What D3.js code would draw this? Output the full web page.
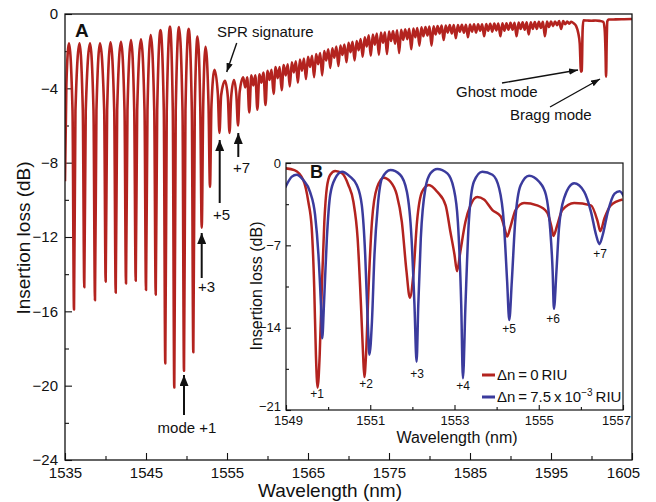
<!DOCTYPE html>
<html><head><meta charset="utf-8">
<script src="https://cdn.jsdelivr.net/npm/d3@7"></script>
<style>
body{margin:0;background:#fff;}
text{font-family:"Liberation Sans",Arial,Helvetica,sans-serif;fill:#111;}
</style></head><body>
<svg id="chart" width="656" height="502"></svg>
<script>
// ---------- DATA ----------
const mainSpectrum = [
 [1535.00,-9.0],[1535.17,-3.8],[1535.49,-1.58],
 [1535.93,-5.2],[1536.11,-15.9],[1536.29,-5.2],[1536.79,-1.58],
 [1537.20,-5.2],[1537.38,-14.7],[1537.56,-5.2],[1538.09,-1.58],
 [1538.52,-5.2],[1538.70,-15.4],[1538.88,-5.2],[1539.32,-1.58],
 [1539.84,-5.2],[1540.02,-14.4],[1540.20,-5.2],[1540.62,-1.52],
 [1541.08,-5.2],[1541.26,-15.0],[1541.44,-5.2],[1541.91,-1.49],
 [1542.35,-5.2],[1542.53,-14.5],[1542.71,-5.2],[1543.15,-1.40],
 [1543.55,-5.2],[1543.73,-14.35],[1543.91,-5.2],[1544.38,-1.36],
 [1544.82,-5.2],[1545.00,-14.85],[1545.18,-5.2],[1545.58,-1.13],
 [1546.02,-5.2],[1546.20,-15.1],[1546.38,-5.2],[1546.79,-0.86],
 [1547.20,-5.2],[1547.38,-18.8],[1547.56,-5.2],[1547.96,-0.68],
 [1548.31,-5.2],[1548.49,-20.1],[1548.67,-5.2],[1549.07,-0.70],
 [1549.51,-5.2],[1549.69,-19.2],[1549.87,-5.2],[1550.27,-0.80],
 [1550.66,-5.2],[1550.84,-18.2],[1551.02,-5.2],[1551.36,-1.22],
 [1551.70,-5.0],[1551.88,-11.5],[1552.06,-5.0],[1552.35,-1.76],
 [1552.72,-4.9],[1552.90,-9.3],[1553.08,-4.9],[1553.46,-3.0],
 [1553.87,-4.3],[1554.07,-6.4],[1554.27,-4.4],[1554.75,-3.6],
 [1555.11,-4.5],[1555.31,-6.4],[1555.51,-4.5],[1555.86,-3.55],
 [1556.16,-4.4],[1556.36,-6.0],[1556.56,-4.2],
 [1557.00,-3.40],[1557.25,-3.95],[1557.50,-3.40],[1557.75,-5.30],[1558.00,-3.30],[1558.25,-3.85],[1558.50,-3.30],[1558.75,-5.15],
 [1559.00,-3.25],[1559.25,-3.70],[1559.50,-3.15],[1559.75,-4.90],[1560.00,-3.05],[1560.25,-3.55],[1560.50,-3.00],[1560.75,-4.30],
 [1561.00,-2.85],[1561.25,-3.45],[1561.50,-2.85],[1561.75,-4.10],[1562.00,-2.75],[1562.25,-3.30],[1562.50,-2.70],[1562.75,-3.90],
 [1563.00,-2.60],[1563.25,-3.15],[1563.50,-2.55],[1563.75,-3.70],[1564.00,-2.45],[1564.25,-3.05],[1564.50,-2.40],[1564.75,-3.50],
 [1565.00,-2.30],[1565.25,-2.85],[1565.50,-2.25],[1565.75,-3.40],[1566.00,-2.15],[1566.25,-2.70],[1566.50,-2.10],[1566.75,-3.30],
 [1567.00,-2.00],[1567.25,-2.50],[1567.50,-1.90],[1567.75,-2.90],[1568.00,-1.85],[1568.25,-2.35],[1568.50,-1.75],[1568.75,-2.80],
 [1569.00,-1.70],[1569.25,-2.20],[1569.50,-1.65],[1569.75,-2.60],[1570.00,-1.55],[1570.25,-2.05],[1570.50,-1.50],[1570.75,-2.50],
 [1571.00,-1.45],[1571.25,-1.95],[1571.50,-1.35],[1571.75,-2.30],[1572.00,-1.25],[1572.25,-1.75],[1572.50,-1.15],[1572.75,-2.25],
 [1573.00,-1.10],[1573.25,-1.65],[1573.50,-1.05],[1573.75,-2.20],[1574.00,-1.00],[1574.25,-1.55],[1574.50,-0.98],[1574.75,-2.15],
 [1575.00,-0.95],[1575.25,-1.45],[1575.50,-0.92],[1575.75,-1.60],[1576.00,-0.88],[1576.25,-2.10],[1576.50,-0.85],[1576.75,-1.40],
 [1577.00,-0.82],[1577.25,-1.35],[1577.50,-0.80],[1577.75,-1.90],[1578.00,-0.78],[1578.25,-1.25],[1578.50,-0.75],[1578.75,-1.70],
 [1579.00,-0.72],[1579.25,-1.20],[1579.50,-0.70],[1579.75,-1.15],[1580.00,-0.68],[1580.25,-1.70],[1580.50,-0.66],[1580.75,-1.10],
 [1581.00,-0.65],[1581.25,-1.05],[1581.50,-0.62],[1581.75,-1.40],[1582.00,-0.62],[1582.25,-1.00],[1582.50,-0.60],[1582.75,-1.05],
 [1583.00,-0.60],[1583.25,-1.30],[1583.50,-0.60],[1583.75,-0.95],[1584.00,-0.58],[1584.25,-1.00],[1584.50,-0.58],[1584.75,-1.25],
 [1585.00,-0.57],[1585.25,-0.95],[1585.50,-0.56],[1585.75,-1.00],[1586.00,-0.55],[1586.25,-0.90],[1586.50,-0.55],[1586.75,-1.20],
 [1587.00,-0.54],[1587.25,-0.90],[1587.50,-0.53],[1587.75,-0.95],[1588.00,-0.52],[1588.25,-0.88],[1588.50,-0.51],[1588.75,-1.20],
 [1589.00,-0.50],[1589.25,-0.90],[1589.50,-0.50],[1589.75,-0.85],[1590.00,-0.48],[1590.25,-0.85],[1590.50,-0.47],[1590.75,-1.20],
 [1591.00,-0.46],[1591.25,-0.80],[1591.50,-0.45],[1591.75,-0.85],[1592.00,-0.44],[1592.25,-1.10],[1592.50,-0.44],[1592.75,-0.80],
 [1593.00,-0.43],[1593.25,-0.80],[1593.50,-0.42],[1593.75,-0.75],[1594.00,-0.42],[1594.25,-1.20],[1594.50,-0.41],[1594.75,-0.70],
 [1595.00,-0.40],[1595.25,-0.65],[1595.50,-0.40],[1595.75,-0.60],[1596.00,-0.38],[1596.25,-0.80],[1596.50,-0.38],[1596.75,-0.55],
 [1597.00,-0.40],[1597.25,-0.52],[1597.50,-0.42],[1597.80,-0.50],[1598.10,-0.65],[1598.35,-1.00],[1598.55,-1.60],
 [1598.70,-3.10],[1598.80,-3.05],[1598.90,-0.90],[1599.00,-0.34],[1599.50,-0.35],[1600.00,-0.36],[1600.50,-0.35],
 [1601.00,-0.37],[1601.45,-0.42],[1601.62,-0.80],[1601.73,-2.00],[1601.80,-3.37],[1601.88,-1.40],[1601.95,-0.40],
 [1602.10,-0.30],[1603.00,-0.29],[1604.00,-0.28],[1605.00,-0.27]
];

const insetRed = [
 [1548.98,-0.45],[1549.20,-0.60],[1549.41,-1.45],[1549.53,-3.3],[1549.61,-5.5],[1549.67,-10.6],[1549.71,-16.3],
 [1549.75,-19.1],[1549.80,-16.3],[1549.85,-10.6],[1549.91,-5.0],[1549.97,-2.1],[1550.05,-1.0],[1550.17,-0.68],
 [1550.33,-0.88],[1550.48,-1.87],[1550.60,-3.3],[1550.70,-6.4],[1550.78,-12.1],[1550.83,-16.3],[1550.86,-18.2],
 [1550.90,-16.3],[1550.96,-10.6],[1551.04,-5.0],[1551.16,-2.1],[1551.32,-1.25],[1551.48,-1.6],[1551.63,-2.7],
 [1551.75,-5.0],[1551.86,-9.2],[1551.94,-11.45],[1552.02,-9.6],[1552.11,-5.0],[1552.23,-2.45],[1552.39,-1.87],
 [1552.59,-2.45],[1552.79,-3.6],[1552.90,-5.8],[1553.00,-7.8],[1553.06,-9.2],[1553.14,-7.5],[1553.26,-5.0],
 [1553.38,-3.6],[1553.54,-2.9],[1553.70,-3.1],[1553.90,-4.0],[1554.10,-4.55],[1554.19,-5.55],[1554.25,-6.25],
 [1554.33,-5.4],[1554.45,-4.0],[1554.65,-3.4],[1554.96,-3.6],[1555.20,-4.2],[1555.30,-5.4],[1555.35,-6.2],
 [1555.43,-5.4],[1555.56,-4.0],[1555.84,-3.4],[1556.24,-3.6],[1556.40,-5.0],[1556.46,-5.8],[1556.56,-4.7],
 [1556.71,-3.6],[1556.99,-3.1]
];

const insetBlue = [
 [1548.98,-2.1],[1549.14,-1.16],[1549.25,-1.0],[1549.41,-1.45],[1549.57,-2.45],[1549.69,-4.4],[1549.77,-7.8],
 [1549.83,-12.1],[1549.86,-14.9],[1549.90,-12.1],[1549.97,-6.4],[1550.05,-2.7],[1550.17,-1.3],[1550.33,-0.74],
 [1550.52,-1.16],[1550.68,-1.87],[1550.80,-3.6],[1550.88,-7.8],[1550.94,-13.5],[1550.98,-16.3],[1551.04,-13.5],
 [1551.10,-7.8],[1551.18,-3.6],[1551.28,-1.3],[1551.48,-0.6],[1551.71,-1.0],[1551.87,-2.45],[1551.98,-6.4],
 [1552.05,-12.1],[1552.10,-16.9],[1552.14,-12.1],[1552.20,-6.4],[1552.31,-2.15],[1552.43,-0.88],[1552.59,-0.5],
 [1552.83,-0.88],[1552.98,-2.15],[1553.08,-5.0],[1553.16,-12.1],[1553.20,-18.3],[1553.26,-12.1],[1553.34,-5.0],
 [1553.46,-1.6],[1553.66,-0.74],[1553.90,-1.0],[1554.06,-2.15],[1554.17,-5.0],[1554.25,-10.1],[1554.30,-13.35],
 [1554.36,-10.1],[1554.44,-5.0],[1554.57,-1.9],[1554.77,-1.08],[1555.01,-1.6],[1555.17,-2.7],[1555.27,-5.55],
 [1555.33,-9.2],[1555.36,-12.4],[1555.42,-9.2],[1555.48,-5.55],[1555.60,-3.0],[1555.84,-1.73],[1556.08,-2.45],
 [1556.24,-4.15],[1556.36,-6.1],[1556.44,-6.9],[1556.52,-6.1],[1556.64,-4.15],[1556.80,-2.6],[1556.92,-2.4],
 [1557.03,-2.9]
];

const mainXTicks = [1535,1545,1555,1565,1575,1585,1595,1605];
const mainXMinor = [1540,1550,1560,1570,1580,1590,1600];
const mainYTicks = [0,-4,-8,-12,-16,-20,-24];
const mainYMinor = [-2,-6,-10,-14,-18,-22];
const insetXTicks = [1549,1551,1553,1555,1557];
const insetXMinor = [1550,1552,1554,1556];
const insetYTicks = [0,-7,-14,-21];
const insetYMinor = [-3.5,-10.5,-17.5];
const modeLabels = ["+1","+2","+3","+4","+5","+6","+7"];
const seriesNames = ["\u0394n\u2009=\u20090\u2009RIU","\u0394n\u2009=\u20097.5\u2009x\u200910"];

const RED = "#b3231f", BLUE = "#3b3b9d";

// ---------- DRAW ----------
const svg = d3.select("#chart");
const defs = svg.append("defs");
defs.append("clipPath").attr("id","clipMain").append("rect").attr("x",65).attr("y",14).attr("width",567).attr("height",446);
defs.append("clipPath").attr("id","clipInset").append("rect").attr("x",286).attr("y",163).attr("width",337).attr("height",247);
function marker(id,len,wid){
  defs.append("marker").attr("id",id).attr("viewBox",`0 0 ${len} ${wid}`).attr("refX",len).attr("refY",wid/2)
    .attr("markerWidth",len).attr("markerHeight",wid).attr("markerUnits","userSpaceOnUse").attr("orient","auto")
    .append("path").attr("d",`M0,0 L${len},${wid/2} L0,${wid} Z`).attr("fill","#111");
}
marker("arrBig",11,9);
marker("arrSmall",9,6.5);

const x = d3.scaleLinear().domain([1535,1605]).range([65,632]);
const y = d3.scaleLinear().domain([-24,0]).range([460,14]);
const fmtY = d => d===0 ? "0" : "\u2212"+Math.abs(d);

// main axes
function styleAxis(g,fs){ g.select(".domain").remove(); g.selectAll("line").attr("stroke","#111").attr("stroke-width",1.1); g.selectAll("text").attr("font-size",fs).attr("fill","#111").attr("font-family",null); }
const gx = svg.append("g").attr("transform","translate(0,460)")
  .call(d3.axisBottom(x).tickValues(mainXTicks).tickSize(-7).tickPadding(7).tickFormat(d3.format("d")));
styleAxis(gx,15);
gx.selectAll(".tick").filter(d=>d===1605).select("text").attr("dx",-9);
styleAxis(svg.append("g").attr("transform","translate(0,460)")
  .call(d3.axisBottom(x).tickValues(mainXMinor).tickSize(-4).tickFormat("")),15);
styleAxis(svg.append("g").attr("transform","translate(65,0)")
  .call(d3.axisLeft(y).tickValues(mainYTicks).tickSize(-7).tickPadding(7).tickFormat(fmtY)),15);
styleAxis(svg.append("g").attr("transform","translate(65,0)")
  .call(d3.axisLeft(y).tickValues(mainYMinor).tickSize(-4).tickFormat("")),15);

// main line
svg.append("path").datum(mainSpectrum).attr("clip-path","url(#clipMain)")
  .attr("d", d3.line().x(d=>x(d[0])).y(d=>y(d[1])).curve(d3.curveMonotoneX))
  .attr("fill","none").attr("stroke",RED).attr("stroke-width",2.6).attr("stroke-linejoin","round");

svg.append("rect").attr("x",65).attr("y",14).attr("width",567).attr("height",446)
  .attr("fill","none").attr("stroke","#111").attr("stroke-width",1.3);

// main titles
svg.append("text").attr("x",330).attr("y",497).attr("text-anchor","middle").attr("font-size",19).text("Wavelength (nm)");
svg.append("text").attr("transform","translate(30,238) rotate(-90)").attr("text-anchor","middle").attr("font-size",19).text("Insertion loss (dB)");
svg.append("text").attr("x",75).attr("y",37).attr("font-size",19).attr("font-weight","bold").text("A");

// main annotations
const ann = [
  {t:"SPR signature",x:217,y:37,a:"start"},
  {t:"+5",x:213,y:220,a:"start"},
  {t:"+7",x:233,y:173,a:"start"},
  {t:"+3",x:198,y:292,a:"start"},
  {t:"mode +1",x:187,y:433,a:"middle"},
  {t:"Ghost mode",x:456,y:97,a:"start"},
  {t:"Bragg mode",x:510,y:120,a:"start"}
];
svg.selectAll("text.ann").data(ann).join("text").attr("class","ann")
  .attr("x",d=>d.x).attr("y",d=>d.y).attr("text-anchor",d=>d.a).attr("font-size",15).text(d=>d.t);

const arrows = [
  {x1:219.7,y1:203,x2:219.7,y2:140,m:"arrBig",w:2},
  {x1:238.3,y1:157,x2:238.3,y2:133,m:"arrBig",w:2},
  {x1:201.7,y1:278,x2:201.7,y2:233,m:"arrBig",w:2},
  {x1:184,y1:415,x2:184,y2:375,m:"arrBig",w:2},
  {x1:236.7,y1:43,x2:226.7,y2:72,m:"arrSmall",w:1.4},
  {x1:502,y1:83,x2:578,y2:70,m:"arrSmall",w:1.4},
  {x1:550,y1:107,x2:600,y2:79,m:"arrSmall",w:1.4}
];
svg.selectAll("line.arr").data(arrows).join("line").attr("class","arr")
  .attr("x1",d=>d.x1).attr("y1",d=>d.y1).attr("x2",d=>d.x2).attr("y2",d=>d.y2)
  .attr("stroke","#111").attr("stroke-width",d=>d.w).attr("marker-end",d=>`url(#${d.m})`);

// ---------- INSET ----------
const xi = d3.scaleLinear().domain([1549,1557]).range([286,623]);
const yi = d3.scaleLinear().domain([-21,0]).range([410,163]);
svg.append("rect").attr("x",286).attr("y",163).attr("width",337).attr("height",247).attr("fill","#fff");

const gxi = svg.append("g").attr("transform","translate(0,410)")
  .call(d3.axisBottom(xi).tickValues(insetXTicks).tickSize(-5).tickPadding(6).tickFormat(d3.format("d")));
styleAxis(gxi,13);
gxi.selectAll(".tick").filter(d=>d===1557).select("text").attr("dx",-7);
gxi.selectAll(".tick").filter(d=>d===1549).select("text").attr("dx",2);
styleAxis(svg.append("g").attr("transform","translate(0,410)")
  .call(d3.axisBottom(xi).tickValues(insetXMinor).tickSize(-3).tickFormat("")),13);
const gyi = svg.append("g").attr("transform","translate(286,0)")
  .call(d3.axisLeft(yi).tickValues(insetYTicks).tickSize(-5).tickPadding(5).tickFormat(fmtY));
styleAxis(gyi,13);
gyi.selectAll(".tick").filter(d=>d===-21).select("text").attr("dy","0.05em");
styleAxis(svg.append("g").attr("transform","translate(286,0)")
  .call(d3.axisLeft(yi).tickValues(insetYMinor).tickSize(-3).tickFormat("")),13);

const lineI = d3.line().x(d=>xi(d[0])).y(d=>yi(d[1])).curve(d3.curveMonotoneX);
svg.append("path").datum(insetRed).attr("clip-path","url(#clipInset)").attr("d",lineI)
  .attr("fill","none").attr("stroke",RED).attr("stroke-width",2.5).attr("stroke-linejoin","round");
svg.append("path").datum(insetBlue).attr("clip-path","url(#clipInset)").attr("d",lineI)
  .attr("fill","none").attr("stroke",BLUE).attr("stroke-width",2.5).attr("stroke-linejoin","round");

svg.append("rect").attr("x",286).attr("y",163).attr("width",337).attr("height",247)
  .attr("fill","none").attr("stroke","#111").attr("stroke-width",1.2);

svg.append("text").attr("x",310).attr("y",178).attr("font-size",18).attr("font-weight","bold").text("B");
svg.append("text").attr("x",457).attr("y",443).attr("text-anchor","middle").attr("font-size",16).text("Wavelength (nm)");
svg.append("text").attr("transform","translate(262,286) rotate(-90)").attr("text-anchor","middle").attr("font-size",16).text("Insertion loss (dB)");

const modePos = [[317,398],[366,388],[417,378],[463,390],[509,333],[553,323],[600,258]];
svg.selectAll("text.mode").data(modeLabels).join("text").attr("class","mode")
  .attr("x",(d,i)=>modePos[i][0]).attr("y",(d,i)=>modePos[i][1]).attr("text-anchor","middle").attr("font-size",12).text(d=>d);

// legend
const leg = svg.append("g");
[[RED,375,380],[BLUE,397,402]].forEach((c,i)=>{
  leg.append("line").attr("x1",482).attr("x2",495).attr("y1",c[1]).attr("y2",c[1]).attr("stroke",c[0]).attr("stroke-width",3);
  const t = leg.append("text").attr("x",497).attr("y",c[2]).attr("font-size",15).text(seriesNames[i]);
  if(i===1){
    t.append("tspan").attr("dy",-6).attr("font-size",10).text("\u22123");
    t.append("tspan").attr("dy",6).text("\u2009RIU");
  }
});
</script></body></html>
